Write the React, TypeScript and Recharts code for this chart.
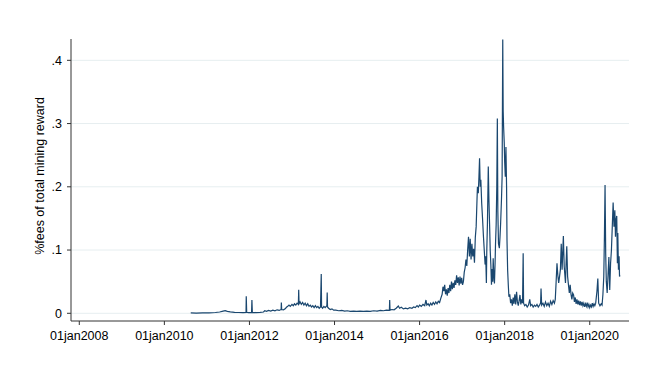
import { LineChart, Line, XAxis, YAxis, CartesianGrid, Label } from "recharts";

// decimal year, fee share of total mining reward
const fees2010to2012: [number, number][] = [
  [2010.62, 0.0005], [2010.75, 0.0004], [2010.9, 0.0006], [2011.05, 0.0008],
  [2011.2, 0.0012], [2011.3, 0.002], [2011.38, 0.0035], [2011.43, 0.0042],
  [2011.48, 0.003], [2011.55, 0.0022], [2011.65, 0.0015], [2011.75, 0.0012],
  [2011.85, 0.001], [2011.92, 0.0012], [2011.925, 0.027], [2011.935, 0.0015],
  [2011.98, 0.001], [2012.05, 0.0015], [2012.058, 0.021], [2012.068, 0.0015],
  [2012.15, 0.0012], [2012.25, 0.0015], [2012.33, 0.002], [2012.36, 0.004],
  [2012.4, 0.003], [2012.45, 0.0045], [2012.5, 0.0035], [2012.55, 0.005],
  [2012.6, 0.004], [2012.65, 0.0055], [2012.7, 0.0045], [2012.745, 0.006],
  [2012.75, 0.017], [2012.758, 0.006], [2012.8, 0.0055], [2012.84, 0.007],
  [2012.87, 0.0095],
];

const fees2013: [number, number][] = [
  [2012.9, 0.011], [2012.93, 0.013], [2012.96, 0.011], [2013.0, 0.014],
  [2013.03, 0.012], [2013.06, 0.015], [2013.09, 0.013], [2013.12, 0.016],
  [2013.15, 0.014], [2013.158, 0.037], [2013.166, 0.015], [2013.19, 0.018],
  [2013.22, 0.014], [2013.25, 0.017], [2013.28, 0.013], [2013.31, 0.016],
  [2013.34, 0.012], [2013.37, 0.015], [2013.4, 0.011], [2013.43, 0.013],
  [2013.46, 0.01], [2013.49, 0.012], [2013.52, 0.009], [2013.55, 0.012],
  [2013.58, 0.009], [2013.61, 0.011], [2013.64, 0.008], [2013.67, 0.01],
  [2013.688, 0.062], [2013.696, 0.01], [2013.72, 0.008], [2013.75, 0.011],
  [2013.78, 0.009], [2013.82, 0.012], [2013.828, 0.033], [2013.836, 0.01],
  [2013.86, 0.008], [2013.9, 0.006], [2013.94, 0.007], [2013.98, 0.005],
];

const fees2014to2015: [number, number][] = [
  [2014.03, 0.005], [2014.1, 0.004], [2014.17, 0.0045], [2014.24, 0.0035],
  [2014.3, 0.004], [2014.37, 0.003], [2014.45, 0.0035], [2014.52, 0.003],
  [2014.6, 0.0035], [2014.68, 0.003], [2014.76, 0.0035], [2014.84, 0.003],
  [2014.92, 0.004], [2015.0, 0.0035], [2015.08, 0.0045], [2015.15, 0.004],
  [2015.22, 0.005], [2015.29, 0.0045], [2015.297, 0.021], [2015.305, 0.005],
  [2015.35, 0.006], [2015.4, 0.0055], [2015.45, 0.008], [2015.5, 0.0115],
  [2015.53, 0.008], [2015.57, 0.0095], [2015.62, 0.007], [2015.67, 0.008],
  [2015.72, 0.007], [2015.77, 0.009], [2015.82, 0.008], [2015.86, 0.01],
  [2015.9, 0.009], [2015.94, 0.012], [2015.97, 0.01], [2016.0, 0.013],
  [2016.04, 0.011], [2016.08, 0.014],
];

const fees2016: [number, number][] = [
  [2016.12, 0.012], [2016.15, 0.021], [2016.17, 0.013], [2016.2, 0.015],
  [2016.23, 0.012], [2016.26, 0.016], [2016.29, 0.013], [2016.32, 0.017],
  [2016.35, 0.014], [2016.38, 0.018], [2016.41, 0.015], [2016.44, 0.019],
  [2016.47, 0.017], [2016.5, 0.024], [2016.53, 0.03], [2016.55, 0.042],
  [2016.57, 0.035], [2016.59, 0.045], [2016.61, 0.03], [2016.63, 0.038],
  [2016.65, 0.028], [2016.67, 0.04], [2016.69, 0.032], [2016.71, 0.045],
  [2016.73, 0.035], [2016.75, 0.05], [2016.77, 0.038], [2016.79, 0.048],
  [2016.81, 0.04], [2016.83, 0.052], [2016.85, 0.045], [2016.87, 0.06],
  [2016.89, 0.048], [2016.91, 0.057], [2016.93, 0.044], [2016.95, 0.058],
  [2016.97, 0.047], [2016.99, 0.056], [2017.01, 0.045], [2017.03, 0.05],
  [2017.05, 0.065],
];

const fees2017: [number, number][] = [
  [2017.07, 0.072], [2017.09, 0.085], [2017.11, 0.075], [2017.13, 0.1],
  [2017.15, 0.121], [2017.17, 0.09], [2017.19, 0.118], [2017.21, 0.085],
  [2017.23, 0.11], [2017.25, 0.09], [2017.27, 0.102], [2017.29, 0.08],
  [2017.31, 0.12], [2017.33, 0.137], [2017.35, 0.18], [2017.36, 0.2],
  [2017.38, 0.19], [2017.395, 0.215], [2017.41, 0.245], [2017.425, 0.2],
  [2017.44, 0.211], [2017.46, 0.174], [2017.48, 0.15], [2017.5, 0.123],
  [2017.52, 0.1], [2017.54, 0.077], [2017.555, 0.09], [2017.57, 0.048],
  [2017.58, 0.1], [2017.595, 0.142], [2017.615, 0.232], [2017.63, 0.18],
  [2017.645, 0.142], [2017.66, 0.1], [2017.675, 0.077], [2017.69, 0.045],
  [2017.705, 0.07], [2017.72, 0.05], [2017.73, 0.087], [2017.745, 0.06],
  [2017.76, 0.047], [2017.775, 0.08], [2017.785, 0.11], [2017.8, 0.14],
  [2017.815, 0.2], [2017.828, 0.308], [2017.84, 0.16], [2017.855, 0.11],
  [2017.875, 0.103], [2017.89, 0.12], [2017.905, 0.142], [2017.925, 0.18],
  [2017.94, 0.216], [2017.955, 0.433], [2017.965, 0.32], [2017.975, 0.295],
  [2017.99, 0.27], [2018.0, 0.24], [2018.015, 0.216], [2018.03, 0.263],
  [2018.045, 0.2], [2018.055, 0.115], [2018.07, 0.068], [2018.085, 0.045],
  [2018.1, 0.026], [2018.12, 0.03], [2018.14, 0.016],
];

const fees2018: [number, number][] = [
  [2018.16, 0.022], [2018.18, 0.012], [2018.2, 0.025], [2018.22, 0.015],
  [2018.24, 0.03], [2018.26, 0.014], [2018.28, 0.034], [2018.3, 0.018],
  [2018.32, 0.012], [2018.34, 0.02], [2018.36, 0.029], [2018.38, 0.014],
  [2018.4, 0.022], [2018.42, 0.016], [2018.435, 0.095], [2018.445, 0.016],
  [2018.47, 0.012], [2018.5, 0.014], [2018.53, 0.01], [2018.56, 0.013],
  [2018.59, 0.022], [2018.61, 0.012], [2018.64, 0.014], [2018.67, 0.01],
  [2018.7, 0.013], [2018.73, 0.011], [2018.76, 0.014], [2018.79, 0.01],
  [2018.82, 0.013], [2018.845, 0.016], [2018.855, 0.039], [2018.87, 0.013],
  [2018.9, 0.016], [2018.93, 0.011], [2018.96, 0.018], [2018.99, 0.012],
  [2019.02, 0.016], [2019.05, 0.011], [2019.08, 0.019], [2019.11, 0.014],
  [2019.14, 0.02], [2019.17, 0.016],
];

const fees2019: [number, number][] = [
  [2019.19, 0.022], [2019.21, 0.05], [2019.23, 0.079], [2019.25, 0.06],
  [2019.27, 0.048], [2019.29, 0.058], [2019.31, 0.069], [2019.33, 0.11],
  [2019.35, 0.069], [2019.38, 0.122], [2019.4, 0.074], [2019.43, 0.048],
  [2019.445, 0.08], [2019.46, 0.106], [2019.48, 0.058], [2019.5, 0.045],
  [2019.52, 0.032], [2019.54, 0.045], [2019.56, 0.03], [2019.58, 0.022],
  [2019.6, 0.032], [2019.62, 0.029], [2019.64, 0.018], [2019.66, 0.025],
  [2019.68, 0.015], [2019.7, 0.022], [2019.72, 0.014], [2019.74, 0.02],
  [2019.76, 0.013], [2019.78, 0.019], [2019.8, 0.012], [2019.82, 0.018],
  [2019.84, 0.012], [2019.86, 0.016], [2019.88, 0.01], [2019.9, 0.015],
  [2019.92, 0.011], [2019.94, 0.017], [2019.96, 0.01], [2019.98, 0.014],
  [2020.0, 0.009], [2020.02, 0.013], [2020.04, 0.01], [2020.06, 0.016],
  [2020.08, 0.011], [2020.1, 0.015], [2020.12, 0.012],
];

const fees2020: [number, number][] = [
  [2020.14, 0.016], [2020.17, 0.035], [2020.19, 0.055], [2020.21, 0.016],
  [2020.24, 0.012], [2020.27, 0.015], [2020.29, 0.013], [2020.31, 0.03],
  [2020.33, 0.058], [2020.345, 0.12], [2020.36, 0.203], [2020.375, 0.095],
  [2020.39, 0.05], [2020.41, 0.032], [2020.43, 0.06], [2020.45, 0.089],
  [2020.47, 0.037], [2020.49, 0.079], [2020.51, 0.1], [2020.53, 0.137],
  [2020.55, 0.175], [2020.57, 0.137], [2020.59, 0.163], [2020.605, 0.121],
  [2020.62, 0.148], [2020.635, 0.154], [2020.65, 0.079], [2020.66, 0.127],
  [2020.675, 0.069], [2020.69, 0.09], [2020.7, 0.058], [2020.71, 0.06],
];

const xTicks = [2008, 2010, 2012, 2014, 2016, 2018, 2020];
const yTicks = [0, 0.1, 0.2, 0.3, 0.4];

const data = [
  ...fees2010to2012,
  ...fees2013,
  ...fees2014to2015,
  ...fees2016,
  ...fees2017,
  ...fees2018,
  ...fees2019,
  ...fees2020,
].map(([t, v]) => ({ t, v }));

const font = '"Liberation Sans", Arial, Helvetica, sans-serif';
const tickStyle = { fill: "#000", fontSize: 12.5, fontFamily: font };

const App = () => {
  return (
    <div style={{ position: "absolute", left: 0, top: 0, background: "#fff" }}>
      <LineChart
        width={660}
        height={377}
        data={data}
        margin={{ top: 39, right: 31, bottom: 26, left: 11 }}
      >
        <CartesianGrid vertical={false} stroke="#e6eef0" horizontalValues={yTicks} />
        <XAxis
          dataKey="t"
          type="number"
          domain={[2007.805, 2020.923]}
          ticks={xTicks}
          allowDataOverflow
          height={30}
          tickSize={4}
          tickMargin={6}
          stroke="#333"
          tick={tickStyle}
          tickFormatter={(y: number) => `01jan${y}`}
        />
        <YAxis
          type="number"
          domain={[-0.0122, 0.4337]}
          ticks={yTicks}
          allowDataOverflow
          width={60}
          tickSize={4}
          tickMargin={5}
          stroke="#333"
          tick={tickStyle}
          tickFormatter={(v: number) => (v === 0 ? "0" : "." + Math.round(v * 10))}
        >
          <Label
            content={() => (
              <text
                x={40}
                y={176}
                transform="rotate(-90 40 176)"
                textAnchor="middle"
                dominantBaseline="central"
                fill="#000"
                fontSize={12.5}
                fontFamily={font}
              >
                %fees of total mining reward
              </text>
            )}
          />
        </YAxis>
        <Line
          dataKey="v"
          type="linear"
          stroke="#1a476f"
          strokeWidth={1.2}
          dot={false}
          isAnimationActive={false}
        />
      </LineChart>
    </div>
  );
};

export default App;
